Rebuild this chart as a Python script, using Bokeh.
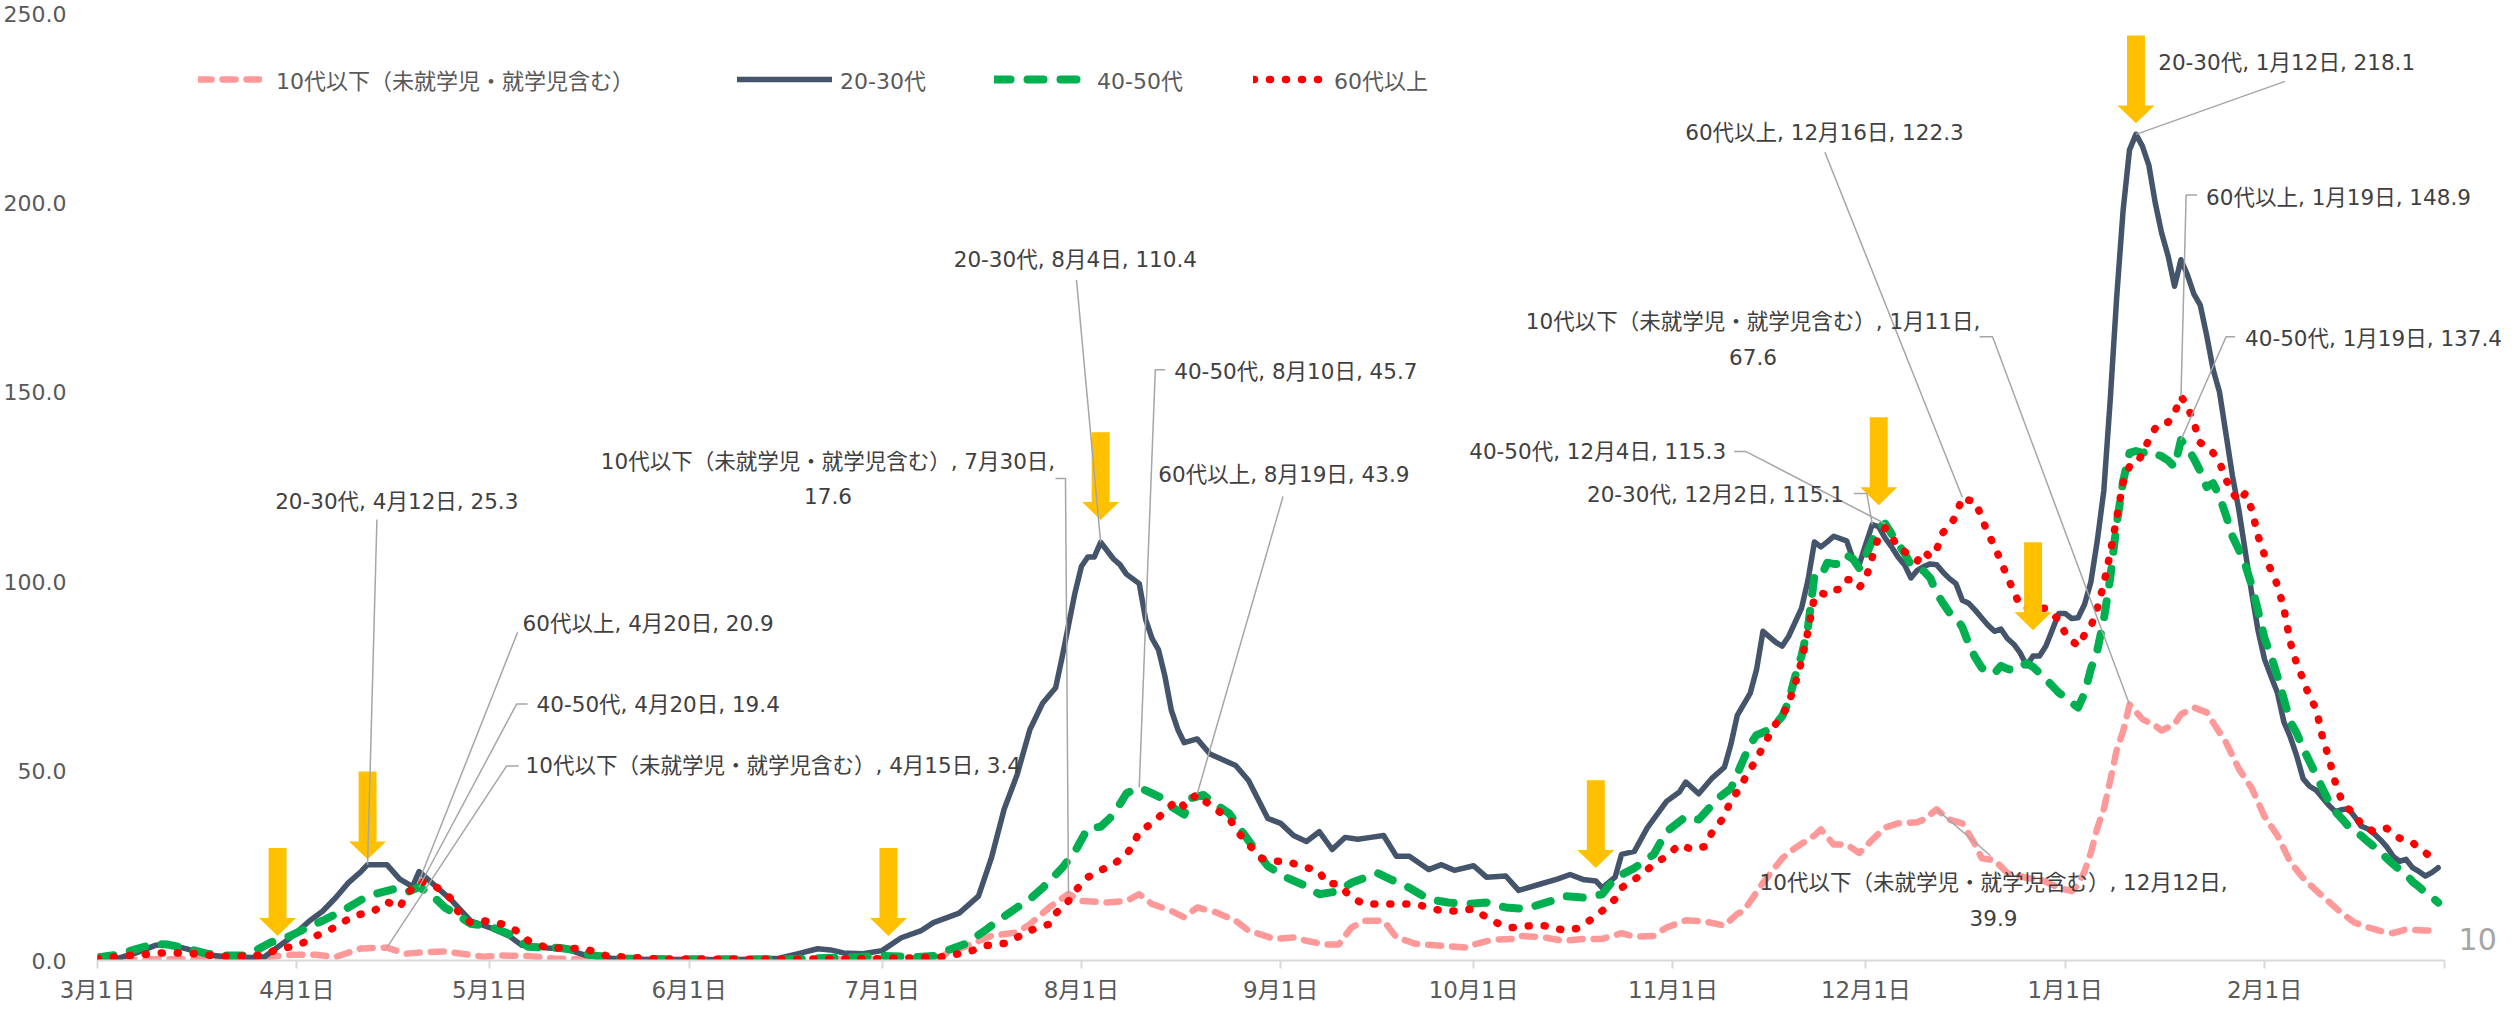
from datetime import date
from bokeh.plotting import figure
from bokeh.models import FixedTicker, Legend, LegendItem, Label, Range1d
from bokeh.embed import file_html
from bokeh.resources import INLINE

START = date(2020, 3, 1)
END = date(2021, 3, 1)


def to_day(md):
    m, d = (int(t) for t in md.split("/"))
    return (date(2020 if m >= 3 else 2021, m, d) - START).days


NAME10 = "10代以下（未就学児・就学児含む）"
NAME20 = "20-30代"
NAME40 = "40-50代"
NAME60 = "60代以上"

# ---------------- data ----------------
s20_dates = ["3/1", "3/4", "3/7", "3/10", "3/12", "3/15", "3/18", "3/21", "3/25", "3/27", "3/29", "3/31",
             "4/3", "4/5", "4/7", "4/9", "4/11", "4/12", "4/15", "4/17", "4/19", "4/20", "4/22", "4/25", "4/28",
             "5/1", "5/4", "5/6", "5/10", "5/13", "5/16", "5/20", "5/25", "6/1", "6/10", "6/15", "6/18", "6/21",
             "6/23", "6/25", "6/28", "7/1", "7/4", "7/7", "7/9", "7/13", "7/16", "7/18", "7/20", "7/22", "7/24",
             "7/26", "7/28", "7/29", "7/31", "8/1", "8/2", "8/3", "8/4", "8/6", "8/7", "8/8", "8/10", "8/11",
             "8/12", "8/13", "8/14", "8/15", "8/16", "8/17", "8/19", "8/21", "8/23", "8/25", "8/27", "8/30",
             "9/1", "9/3", "9/5", "9/7", "9/9", "9/11", "9/13", "9/15", "9/17", "9/19", "9/21", "9/24", "9/26",
             "9/28", "10/1", "10/3", "10/6", "10/8", "10/11", "10/14", "10/16", "10/18", "10/20", "10/21",
             "10/23", "10/24", "10/26", "10/28", "10/31", "11/2", "11/3", "11/5", "11/7", "11/9", "11/10",
             "11/11", "11/13", "11/14", "11/15", "11/17", "11/18", "11/19", "11/21", "11/22", "11/23", "11/24",
             "11/25", "11/26", "11/28", "11/29", "11/30", "12/1", "12/2", "12/3", "12/4", "12/5", "12/6", "12/7",
             "12/8", "12/9", "12/10", "12/11", "12/12", "12/13", "12/14", "12/15", "12/16", "12/17", "12/18",
             "12/19", "12/20", "12/21", "12/22", "12/23", "12/24", "12/25", "12/26", "12/27", "12/28", "12/29",
             "12/30", "12/31", "1/1", "1/2", "1/3", "1/4", "1/5", "1/6", "1/7", "1/8", "1/9", "1/10", "1/11",
             "1/12", "1/13", "1/14", "1/15", "1/16", "1/17", "1/18", "1/19", "1/20", "1/21", "1/22", "1/23",
             "1/24", "1/25", "1/26", "1/27", "1/28", "1/29", "1/30", "1/31", "2/1", "2/2", "2/3", "2/4", "2/5",
             "2/6", "2/7", "2/8", "2/9", "2/10", "2/11", "2/12", "2/13", "2/14", "2/15", "2/16", "2/17", "2/18",
             "2/19", "2/20", "2/21", "2/22", "2/23", "2/24", "2/25", "2/26", "2/27", "2/28"]
s20_vals = [0.5, 0.5, 2.0, 4.0, 4.3, 3.0, 1.5, 1.0, 0.8, 1.0, 3.5, 6.0,
            10.5, 13.0, 16.5, 20.5, 23.5, 25.3, 25.3, 21.5, 19.5, 23.5, 20.5, 16.0, 10.5,
            8.7, 6.5, 4.0, 3.3, 3.0, 1.3, 0.6, 0.3, 0.2, 0.3, 0.6, 1.8, 3.1,
            2.8, 2.0, 1.8, 2.6, 6.0, 7.8, 10.0, 12.5, 17.0, 27.0, 40.0, 49.0, 61.0,
            68.0, 72.0, 80.0, 97.0, 104.0, 106.5, 106.5, 110.4, 106.0, 104.5, 102.0, 99.5, 90.0,
            85.0, 82.0, 75.0, 66.0, 61.0, 57.5, 58.5, 54.5, 53.0, 51.5, 47.5, 37.5,
            36.2, 33.0, 31.4, 34.0, 29.3, 32.5, 32.0, 32.5, 33.0, 27.5, 27.5, 24.0, 25.3,
            23.8, 25.0, 22.0, 22.3, 18.5, 20.0, 21.5, 22.7, 21.4, 21.0, 19.2,
            22.0, 28.0, 28.8, 35.0, 42.0, 44.5, 47.1, 44.0, 48.0, 51.0, 57.0,
            64.7, 70.5, 76.8, 86.9, 84.0, 83.0, 85.6, 93.0, 100.4, 110.5, 109.2,
            110.5, 112.0, 110.8, 106.0, 104.7, 110.0, 115.1, 114.5, 111.5, 109.2, 106.5, 104.5,
            101.0, 103.0, 104.0, 104.7, 104.5, 102.5, 100.8, 99.5, 95.1, 94.3, 92.5,
            90.5, 88.5, 86.9, 87.5, 85.0, 83.5, 81.2, 77.8, 80.4, 80.4, 83.0,
            87.3, 91.6, 91.6, 90.3, 90.5, 94.0, 100.0, 111.0, 124.0, 148.0, 175.0, 198.0, 214.0,
            218.1, 215.0, 210.0, 200.0, 192.0, 186.0, 178.0, 185.0, 181.0, 176.0, 173.0, 165.0,
            156.0, 150.0, 139.0, 128.0, 119.0, 108.0, 97.0, 87.0, 79.5, 75.0, 70.7, 63.0, 59.0,
            54.0, 48.0, 46.0, 45.0, 43.0, 41.0, 39.3, 39.8, 40.1, 38.0, 35.5, 34.8, 33.5,
            31.9, 30.0, 27.5, 26.2, 26.7, 24.5, 23.5, 22.3, 23.2, 24.5]

s40_dates = ["3/1", "3/4", "3/7", "3/10", "3/12", "3/15", "3/18", "3/21", "3/24", "3/26", "3/28", "3/31",
             "4/3", "4/5", "4/8", "4/11", "4/13", "4/16", "4/18", "4/20", "4/22", "4/24", "4/26", "4/28",
             "5/1", "5/4", "5/7", "5/12", "5/14", "5/17", "5/22", "6/1", "6/15", "6/25", "7/1", "7/6", "7/9",
             "7/11", "7/14", "7/17", "7/19", "7/22", "7/24", "7/26", "7/29", "7/31", "8/2", "8/4", "8/6",
             "8/8", "8/10", "8/12", "8/14", "8/15", "8/17", "8/18", "8/20", "8/22", "8/24", "8/26", "8/28",
             "8/30", "9/2", "9/5", "9/7", "9/10", "9/12", "9/16", "9/18", "9/21", "9/24", "9/27", "9/30",
             "10/3", "10/6", "10/9", "10/13", "10/15", "10/18", "10/21", "10/23", "10/26", "10/29", "10/31",
             "11/3", "11/5", "11/8", "11/10", "11/12", "11/13", "11/14", "11/15", "11/16", "11/17", "11/18",
             "11/19", "11/20", "11/21", "11/22", "11/23", "11/24", "11/25", "11/26", "11/27", "11/28", "11/29",
             "11/30", "12/1", "12/2", "12/3", "12/4", "12/5", "12/6", "12/7", "12/8", "12/9", "12/10", "12/11",
             "12/12", "12/13", "12/14", "12/15", "12/16", "12/17", "12/18", "12/19", "12/20", "12/21", "12/22",
             "12/23", "12/24", "12/25", "12/26", "12/27", "12/28", "12/29", "12/30", "12/31", "1/1", "1/2",
             "1/3", "1/4", "1/5", "1/6", "1/7", "1/8", "1/9", "1/10", "1/11", "1/12", "1/13", "1/14", "1/15",
             "1/16", "1/17", "1/18", "1/19", "1/20", "1/21", "1/22", "1/23", "1/24", "1/25", "1/26", "1/27",
             "1/28", "1/29", "1/30", "1/31", "2/1", "2/2", "2/3", "2/4", "2/5", "2/6", "2/7", "2/8", "2/9",
             "2/10", "2/11", "2/12", "2/13", "2/14", "2/15", "2/16", "2/17", "2/18", "2/19", "2/20", "2/21",
             "2/22", "2/23", "2/24", "2/25", "2/26", "2/27", "2/28"]
s40_vals = [0.8, 1.5, 3.0, 4.4, 4.2, 3.1, 1.8, 1.3, 1.3, 3.0, 4.8, 6.5,
            9.0, 10.5, 13.0, 16.0, 17.5, 18.8, 17.9, 19.4, 17.3, 14.0, 12.0, 9.7,
            9.0, 7.0, 3.6, 3.3, 2.8, 1.3, 0.5, 0.3, 0.3, 0.8, 1.2, 0.9, 1.2,
            2.6, 4.4, 7.9, 10.5, 14.0, 16.2, 19.2, 24.4, 28.8, 34.9, 35.3, 38.5,
            44.1, 45.7, 44.1, 42.5, 40.6, 38.5, 42.8, 43.7, 41.1, 38.8, 34.0, 29.3,
            24.9, 21.8, 19.6, 17.5, 18.3, 20.5, 23.1, 21.5, 19.2, 16.2, 15.3, 14.9,
            15.3, 14.0, 13.6, 15.7, 17.0, 16.6, 17.5, 21.8, 24.4, 28.0, 34.0,
            38.0, 37.2, 42.8, 45.4, 53.2, 57.0, 59.5, 60.2, 61.0, 62.5, 64.5,
            68.5, 75.0, 80.5, 88.0, 101.5, 101.3, 105.0, 104.7, 104.7, 107.0, 106.0,
            103.5, 106.9, 110.8, 114.4, 115.3, 112.6, 110.0, 107.5, 104.5, 103.5, 102.8, 101.0,
            97.0, 94.3, 91.8, 90.5, 88.0, 83.5, 80.0, 77.3, 76.0, 75.8, 77.8,
            77.0, 76.5, 77.5, 78.5, 77.5, 75.9, 74.2, 72.5, 70.7, 69.5, 68.0,
            66.8, 70.5, 77.0, 82.0, 90.0, 101.0, 115.2, 126.5, 134.0, 134.5, 134.0, 134.6, 133.8,
            133.1, 132.0, 130.3, 137.4, 135.4, 132.5, 129.2, 125.0, 126.0, 122.5, 117.5, 112.0,
            108.5, 104.5, 99.0, 92.2, 85.0, 80.5, 75.0, 69.0, 63.0, 60.0, 56.0, 52.5, 49.0,
            45.4, 42.0, 39.3, 37.5, 35.5, 34.0, 33.0, 31.5, 30.1, 28.5, 27.0, 25.4,
            24.0, 22.8, 20.8, 19.5, 17.9, 16.8, 15.3]

s60_dates = ["3/1", "3/6", "3/11", "3/14", "3/16", "3/20", "3/25", "3/27", "3/29", "3/31", "4/2", "4/4",
             "4/6", "4/8", "4/10", "4/13", "4/15", "4/17", "4/18", "4/20", "4/22", "4/24", "4/25", "4/26",
             "4/28", "4/30", "5/3", "5/5", "5/7", "5/10", "5/13", "5/16", "5/19", "5/22", "5/28", "6/15",
             "7/1", "7/10", "7/13", "7/15", "7/17", "7/20", "7/22", "7/24", "7/27", "7/28", "7/30", "7/31",
             "8/2", "8/4", "8/6", "8/8", "8/9", "8/10", "8/12", "8/14", "8/15", "8/16", "8/17", "8/18", "8/19",
             "8/21", "8/22", "8/24", "8/25", "8/26", "8/28", "8/29", "8/31", "9/2", "9/4", "9/7", "9/8",
             "9/10", "9/12", "9/14", "9/20", "9/22", "9/24", "9/26", "9/28", "10/1", "10/3", "10/5", "10/7",
             "10/10", "10/12", "10/15", "10/17", "10/19", "10/21", "10/23", "10/24", "10/27", "10/29",
             "10/31", "11/2", "11/4", "11/6", "11/7", "11/9", "11/10", "11/11", "11/12", "11/13", "11/14",
             "11/15", "11/16", "11/17", "11/18", "11/19", "11/20", "11/21", "11/22", "11/23", "11/24", "11/25",
             "11/26", "11/27", "11/28", "11/29", "11/30", "12/1", "12/2", "12/3", "12/4", "12/5", "12/6",
             "12/7", "12/8", "12/9", "12/10", "12/11", "12/12", "12/13", "12/14", "12/15", "12/16", "12/17",
             "12/18", "12/19", "12/20", "12/21", "12/22", "12/23", "12/24", "12/25", "12/26", "12/27",
             "12/28", "12/29", "12/30", "12/31", "1/1", "1/2", "1/3", "1/4", "1/5", "1/6", "1/7", "1/8",
             "1/9", "1/10", "1/11", "1/12", "1/13", "1/14", "1/15", "1/16", "1/17", "1/18", "1/19", "1/20",
             "1/21", "1/22", "1/23", "1/24", "1/25", "1/26", "1/27", "1/28", "1/29", "1/30", "1/31", "2/1",
             "2/2", "2/3", "2/4", "2/5", "2/6", "2/7", "2/8", "2/9", "2/10", "2/11", "2/12", "2/13", "2/14",
             "2/15", "2/16", "2/17", "2/18", "2/19", "2/20", "2/21", "2/22", "2/23", "2/24", "2/25", "2/26",
             "2/27", "2/28"]
s60_vals = [0.5, 1.3, 2.0, 2.0, 1.8, 1.1, 1.2, 1.5, 3.0, 3.6, 4.7, 6.5,
            7.9, 10.0, 11.8, 13.1, 15.5, 14.0, 17.3, 20.9, 20.1, 18.0, 16.2, 13.1,
            10.0, 10.5, 9.6, 8.0, 5.2, 3.3, 3.3, 3.0, 1.3, 0.9, 0.3, 0.3,
            0.5, 0.9, 1.8, 2.6, 3.9, 4.5, 6.1, 7.9, 9.6, 12.4, 15.7, 18.3,
            22.0, 23.8, 25.4, 28.0, 30.4, 34.0, 36.2, 39.3, 41.0, 42.4, 40.6, 42.4, 43.9,
            41.0, 39.8, 37.5, 34.9, 32.5, 28.8, 27.0, 26.2, 26.2, 25.0, 23.6, 20.5,
            20.1, 16.6, 14.9, 14.9, 14.9, 14.0, 13.1, 13.1, 13.6, 11.4, 9.6, 8.7,
            9.2, 9.2, 8.0, 8.4, 10.5, 13.1, 16.2, 19.2, 22.5, 25.4,
            27.5, 30.6, 29.3, 30.1, 33.6, 38.0, 42.4, 44.5, 47.5, 50.5, 53.0,
            56.5, 59.5, 62.5, 64.5, 68.0, 73.0, 79.0, 87.0, 96.0, 97.0, 96.5,
            97.8, 98.0, 100.5, 100.5, 98.5, 100.8, 106.5, 112.0, 114.2, 112.0, 109.0,
            108.0, 106.5, 105.5, 108.0, 106.5, 108.5, 113.0, 114.5, 117.5, 122.3, 121.5,
            121.2, 117.0, 112.6, 109.5, 105.3, 101.3, 97.4, 93.6, 93.0, 93.0,
            93.0, 93.0, 91.5, 89.9, 86.4, 84.5, 83.0, 86.0, 88.2, 93.0, 99.5, 107.5,
            116.8, 126.2, 130.5, 131.0, 133.7, 137.5, 140.5, 142.0, 142.1, 144.5, 148.9, 146.5,
            142.0, 136.7, 135.5, 134.0, 131.5, 127.0, 123.5, 121.2, 123.3, 119.1, 112.0, 107.0,
            103.0, 99.1, 93.0, 84.0, 78.3, 74.2, 69.5, 66.6, 59.0, 53.5, 47.0, 42.2, 40.0,
            39.0, 35.9, 35.0, 34.0, 34.5, 34.9, 33.5, 32.3, 31.8, 31.2, 29.5, 28.5,
            27.0, 26.0]

s10_dates = ["3/1", "3/10", "3/20", "3/25", "3/31", "4/4", "4/7", "4/11", "4/15", "4/18", "4/21", "4/24",
             "4/30", "5/3", "5/7", "5/11", "5/20", "6/10", "7/1", "7/10", "7/11", "7/15", "7/18", "7/22",
             "7/24", "7/27", "7/30", "8/1", "8/5", "8/8", "8/10", "8/12", "8/15", "8/17", "8/19", "8/22",
             "8/25", "8/27", "8/31", "9/3", "9/5", "9/8", "9/10", "9/12", "9/14", "9/17", "9/19", "9/22",
             "9/26", "9/30", "10/1", "10/4", "10/7", "10/8", "10/12", "10/15", "10/18", "10/21", "10/24",
             "10/26", "10/29", "10/31", "11/3", "11/6", "11/9", "11/11", "11/12", "11/15", "11/18", "11/20",
             "11/23", "11/24", "11/26", "11/28", "11/30", "12/2", "12/4", "12/6", "12/9", "12/10", "12/12",
             "12/14", "12/16", "12/18", "12/19", "12/21", "12/23", "12/26", "12/28", "12/31", "1/2", "1/3",
             "1/4", "1/5", "1/6", "1/7", "1/8", "1/9", "1/10", "1/11", "1/13", "1/15", "1/16", "1/18", "1/19",
             "1/21", "1/23", "1/24", "1/26", "1/28", "1/30", "2/1", "2/3", "2/5", "2/7", "2/9", "2/11", "2/13",
             "2/15", "2/17", "2/19", "2/21", "2/23", "2/26", "2/28"]
s10_vals = [0.2, 0.3, 0.3, 0.5, 1.5, 1.5, 0.9, 3.2, 3.4, 1.8, 2.2, 2.4,
            1.0, 1.3, 1.2, 0.5, 0.2, 0.2, 0.4, 0.8, 1.8, 4.4, 6.5, 7.4,
            9.6, 14.0, 17.6, 15.7, 15.3, 15.7, 17.5, 14.9, 13.1, 11.4, 14.0, 12.7,
            10.5, 7.9, 5.7, 6.1, 5.2, 4.2, 4.2, 8.7, 10.5, 10.5, 6.1, 4.4,
            3.9, 3.4, 4.2, 5.5, 5.7, 6.5, 6.1, 5.2, 5.7, 5.7, 7.2,
            6.3, 6.5, 8.7, 10.6, 10.3, 9.2, 12.3, 13.1, 20.5, 27.0, 29.7,
            33.0, 34.6, 30.6, 30.6, 28.4, 31.9, 35.1, 36.2, 36.5, 37.2, 39.9,
            37.2, 36.2, 30.6, 27.0, 26.5, 23.1, 21.8, 21.5, 19.2, 18.3, 20.0,
            23.5, 28.5, 35.0, 40.0, 47.5, 55.5, 60.5, 67.6, 63.7, 62.0, 60.7, 62.4, 65.0,
            66.8, 65.5, 62.8, 57.6, 50.6, 45.5, 38.0, 33.0, 26.0, 21.8, 18.5, 15.5, 12.5,
            10.0, 8.8, 7.8, 7.2, 8.2, 7.9, 8.0]

y_ticks = [0, 50, 100, 150, 200, 250]
x_tick_dates = ["3/1", "4/1", "5/1", "6/1", "7/1", "8/1", "9/1", "10/1", "11/1", "12/1", "1/1", "2/1"]
x_tick_labels = ["3月1日", "4月1日", "5月1日", "6月1日", "7月1日", "8月1日", "9月1日", "10月1日",
                 "11月1日", "12月1日", "1月1日", "2月1日"]

# orange arrows: date and value at the arrow tip
arrow_dates = ["3/29", "4/12", "7/2", "8/4", "10/20", "12/3", "12/27", "1/12"]
arrow_tips = [6.5, 26.7, 6.5, 116.3, 24.4, 120.2, 87.2, 221.0]

# ---------------- layout ----------------
FONT = "DejaVu Sans, Noto Sans CJK JP"
W, H = 2501, 1005
ML, MR, MT, MB = 92, 0, 13, 43
PAGE = 8
NDAYS = (END - START).days
PX_PER_DAY = 2352 / NDAYS
FRAME_W = W - ML - MR
FRAME_H = H - MT - MB
XMAX = FRAME_W / PX_PER_DAY
YMAX = 250
DX = 1 / PX_PER_DAY
DY = YMAX / FRAME_H


def px2x(px):
    return (px - PAGE - ML) * DX


def px2y(py):
    return (PAGE + MT + FRAME_H - py) * DY


p = figure(width=W, height=H, output_backend="svg", toolbar_location=None,
           x_range=Range1d(0, XMAX), y_range=Range1d(0, YMAX),
           min_border_left=ML, min_border_right=MR, min_border_top=MT, min_border_bottom=MB)
p.outline_line_color = None
p.grid.visible = False
p.background_fill_color = "white"
p.border_fill_color = "white"

xt = [to_day(d) for d in x_tick_dates] + [NDAYS]
p.xaxis.ticker = FixedTicker(ticks=xt)
ov = {t: lab for t, lab in zip(xt, x_tick_labels)}
ov[NDAYS] = ""
p.xaxis.major_label_overrides = ov
p.xaxis.bounds = (0, NDAYS)
p.xaxis.axis_line_color = "#D9D9D9"
p.xaxis.axis_line_width = 2
p.xaxis.major_tick_line_color = "#D9D9D9"
p.xaxis.major_tick_line_width = 2
p.xaxis.major_tick_out = 8
p.xaxis.major_tick_in = 0
p.xaxis.minor_tick_line_color = None
p.xaxis.major_label_standoff = 8
p.xaxis.major_label_text_font = FONT
p.xaxis.major_label_text_font_size = "23px"
p.xaxis.major_label_text_color = "#595959"

p.yaxis.ticker = FixedTicker(ticks=y_ticks)
p.yaxis.major_label_overrides = {t: f"{t:.1f}" for t in y_ticks}
p.yaxis.axis_line_color = None
p.yaxis.major_tick_line_color = None
p.yaxis.minor_tick_line_color = None
p.yaxis.major_label_standoff = 25
p.yaxis.major_label_text_font = FONT
p.yaxis.major_label_text_font_size = "22px"
p.yaxis.major_label_text_color = "#595959"

series = {
    "s10": dict(name=NAME10, dates=s10_dates, vals=s10_vals, color="#FF9999", width=6.5, dash="13 11"),
    "s20": dict(name=NAME20, dates=s20_dates, vals=s20_vals, color="#44546A", width=5.5, dash="solid"),
    "s40": dict(name=NAME40, dates=s40_dates, vals=s40_vals, color="#00B050", width=8, dash="16 17"),
    "s60": dict(name=NAME60, dates=s60_dates, vals=s60_vals, color="#FF0000", width=7.5, dash="1 15"),
}

renderers = {}
for key in ["s10", "s20", "s40", "s60"]:
    s = series[key]
    xs = [to_day(d) for d in s["dates"]]
    r = p.line(xs, s["vals"], line_color=s["color"], line_width=s["width"], line_dash=s["dash"],
               line_cap="round", line_join="round")
    renderers[key] = r

# legend: one box per entry (glyph start px, glyph width, standoff)
legend_cfg = {"s10": (201, 64, 14), "s20": (740, 95, 8), "s40": (997, 95, 8), "s60": (1256, 73, 8)}
LEG_CY = 80
for key, (gx, gw, so) in legend_cfg.items():
    leg = Legend(items=[LegendItem(label=series[key]["name"], renderers=[renderers[key]])],
                 location=(gx - PAGE - ML, PAGE + MT + FRAME_H - LEG_CY - 25),
                 orientation="horizontal", glyph_width=gw, glyph_height=24, label_height=24,
                 label_standoff=so, padding=0, margin=0, spacing=0,
                 border_line_alpha=0, background_fill_alpha=0,
                 label_text_font=FONT, label_text_font_size="22px", label_text_color="#595959")
    p.add_layout(leg)

# arrows
AH_TOTAL, AH_HEAD, AH_HALF, AS_HALF = 88, 18, 18.5, 9
axs, ays = [], []
for d, tip in zip(arrow_dates, arrow_tips):
    x = to_day(d)
    hb = tip + AH_HEAD * DY
    top = tip + AH_TOTAL * DY
    axs.append([x, x - AH_HALF * DX, x - AS_HALF * DX, x - AS_HALF * DX, x + AS_HALF * DX,
                x + AS_HALF * DX, x + AH_HALF * DX])
    ays.append([tip, hb, hb, top, top, hb, hb])
p.patches(axs, ays, fill_color="#FFC000", line_color=None)

# data labels with leader lines
annotations = [
    ("s20", "4/12", 1, (278, 510), "left", [(380, 528)]),
    ("s60", "4/20", 1, (526, 632), "left", [(521, 641)]),
    ("s40", "4/20", 1, (540, 713), "left", [(531, 713), (520, 713)]),
    ("s10", "4/15", 1, (529, 775), "left", [(522, 775), (510, 775)]),
    ("s10", "7/30", 2, (832, 470), "center", [(1060, 487), (1070, 487)]),
    ("s20", "8/4", 1, (958, 268), "left", [(1081, 288)]),
    ("s40", "8/10", 1, (1179, 380), "left", [(1170, 378), (1160, 378)]),
    ("s60", "8/19", 1, (1163, 483), "left", [(1288, 505)]),
    ("s40", "12/4", 1, (1732, 460), "right", [(1740, 460), (1752, 460)]),
    ("s20", "12/2", 1, (1850, 503), "right", [(1860, 502), (1873, 502)]),
    ("s60", "12/16", 1, (1691, 140), "left", [(1831, 160)]),
    ("s10", "1/11", 2, (1759, 330), "center", [(1986, 345), (1999, 345)]),
    ("s20", "1/12", 1, (2165, 70), "left", [(2292, 89)]),
    ("s60", "1/19", 1, (2213, 205), "left", [(2204, 203), (2193, 203)]),
    ("s40", "1/19", 1, (2252, 347), "left", [(2242, 345), (2233, 345)]),
    ("s10", "12/12", 2, (2000, 892), "center", [(1997, 865)]),
]
for key, d, nlines, (tx, ty), align, leader in annotations:
    s = series[key]
    v = s["vals"][s["dates"].index(d)]
    m, dd = d.split("/")
    head = f"{s['name']}, {m}月{dd}日, {v:.1f}"
    lines = [head] if nlines == 1 else [f"{s['name']}, {m}月{dd}日,", f"{v:.1f}"]
    lx = [px2x(a) for a, _ in leader] + [to_day(d)]
    ly = [px2y(b) for _, b in leader] + [v]
    p.line(lx, ly, line_color="#A6A6A6", line_width=1.5)
    for i, t in enumerate(lines):
        p.add_layout(Label(x=px2x(tx), y=px2y(ty + 35 * i), text=t, text_align=align,
                           text_baseline="middle", text_font=FONT, text_font_size="21.5px",
                           text_color="#404040"))

# page number at the lower right corner
p.add_layout(Label(x=px2x(2466), y=px2y(948), text="10", text_align="left", text_baseline="middle",
                   text_font=FONT, text_font_size="30px", text_color="#A6A6A6"))

open("out.html", "w").write(file_html(p, INLINE))
